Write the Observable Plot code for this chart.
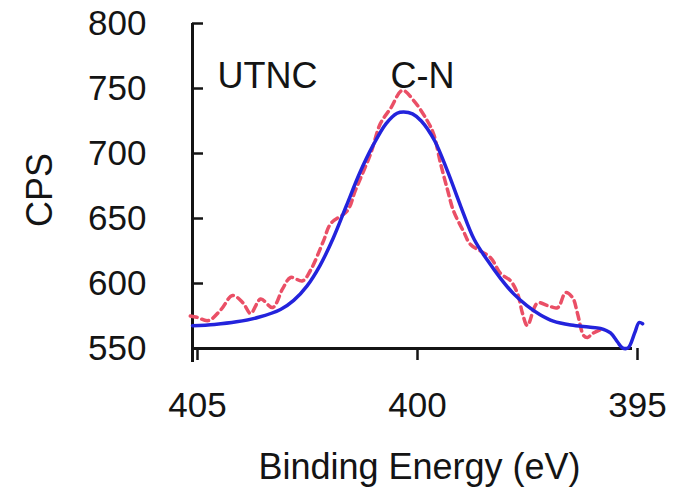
<!DOCTYPE html>
<html>
<head>
<meta charset="utf-8">
<script src="https://cdn.jsdelivr.net/npm/d3@7"></script>
<script src="https://cdn.jsdelivr.net/npm/@observablehq/plot@0.6"></script>
<style>
  html, body { margin: 0; padding: 0; background: #fff; }
</style>
</head>
<body>
<div id="chart"></div>
<script>
// Axis ticks
const energyTicks = [405, 400, 395];
const cpsTicks = [550, 600, 650, 700, 750, 800];

// N 1s spectrum, measured counts (dashed)
const measuredEnergy = [405.05, 404.9, 404.64, 404.35, 404.09, 403.85, 403.68, 403.45, 403.18, 402.95,
  402.77, 402.5, 402.32, 402.02, 401.86, 401.48, 401.3, 400.95, 400.73, 400.5,
  400.23, 399.98, 399.66, 399.52, 399.36, 399.2, 399.07, 398.84, 398.68, 398.23,
  398.0, 397.77, 397.61, 397.5, 397.39, 397.16, 396.93, 396.7, 396.52, 396.36,
  396.25, 396.11, 396.02, 395.91, 395.66];
const measuredCps = [575, 574, 571.5, 580, 590.8, 585, 577, 588, 581.5, 596,
  604.6, 602, 610, 633, 646, 656, 671.5, 700, 723, 734.6,
  748.5, 741, 725, 715, 692, 671.5, 656, 640, 630, 620,
  607.7, 602, 592, 577, 567.7, 585, 583, 581.5, 593, 589,
  577, 560, 558.5, 561.5, 565.5];

// Fitted C-N component (solid)
const fitEnergy = [405.0, 404.5, 404.0, 403.5, 403.0, 402.7, 402.4, 402.1, 401.8, 401.5,
  401.2, 400.9, 400.6, 400.35, 400.2, 400.0, 399.8, 399.5, 399.2, 398.9,
  398.6, 398.3, 398.0, 397.7, 397.4, 397.1, 396.8, 396.4, 396.0, 395.73,
  395.5, 395.34, 395.23, 395.1, 394.95, 394.85, 394.77];
const fitCps = [567.5, 568.5, 570.5, 574, 580, 587, 598, 614, 635, 660,
  685, 706, 723, 731, 732, 730.5, 725, 710, 686, 659,
  634, 618, 604, 592, 583, 576, 571, 568, 566.5, 565.5,
  562, 555, 550.5, 550.5, 562, 570, 569];

// Annotations
const noteText = ["UTNC", "C-N"];
const noteEnergy = [404.43, 400.5];
const noteCps = [759, 759];

const measured = measuredEnergy.map((e, i) => ({energy: e, cps: measuredCps[i]}));
const fit = fitEnergy.map((e, i) => ({energy: e, cps: fitCps[i]}));
const notes = noteText.map((t, i) => ({text: t, energy: noteEnergy[i], cps: noteCps[i]}));

const ink = "#141414";

const chart = Plot.plot({
  width: 683,
  height: 493,
  marginLeft: 192,
  marginRight: 51,
  marginTop: 23,
  marginBottom: 145,
  style: {fontFamily: "'Liberation Sans', Arial, sans-serif", fontSize: "35px", color: ink, background: "#fff"},
  x: {domain: [405, 395]},
  y: {domain: [550, 800]},
  marks: [
    // axis lines
    Plot.ruleX([405], {stroke: ink, strokeWidth: 3, insetBottom: -14}),
    Plot.ruleY([550], {stroke: ink, strokeWidth: 3}),
    Plot.axisX(energyTicks, {
      anchor: "bottom", tickSize: 12, tickPadding: 32, strokeWidth: 2.5,
      stroke: ink, fill: ink, fontSize: 35, dx: 5, label: null
    }),
    Plot.axisY(cpsTicks, {
      anchor: "left", tickSize: -11, tickPadding: 57, strokeWidth: 2.5,
      stroke: ink, fill: ink, fontSize: 35, label: null
    }),
    // axis titles
    Plot.text(["Binding Energy (eV)"], {
      frameAnchor: "bottom", dy: 119, dx: 7, lineAnchor: "middle",
      fontSize: 36, fill: ink, letterSpacing: 0.6
    }),
    Plot.text(["CPS"], {
      frameAnchor: "left", rotate: -90, dx: -152, dy: 4,
      textAnchor: "middle", lineAnchor: "middle",
      fontSize: 36, fill: ink
    }),
    // measured spectrum
    Plot.line(measured, {
      x: "energy", y: "cps", stroke: "#ea4f66", strokeWidth: 3.5,
      strokeDasharray: "7,5", curve: "catmull-rom"
    }),
    // fitted component
    Plot.line(fit, {
      x: "energy", y: "cps", stroke: "#2323dc", strokeWidth: 3.5, curve: "catmull-rom"
    }),
    // labels
    Plot.text(notes, {
      x: "energy", y: "cps", text: "text",
      textAnchor: "start", lineAnchor: "middle", fontSize: 36, fill: ink
    })
  ]
});

document.getElementById("chart").appendChild(chart);
</script>
</body>
</html>
